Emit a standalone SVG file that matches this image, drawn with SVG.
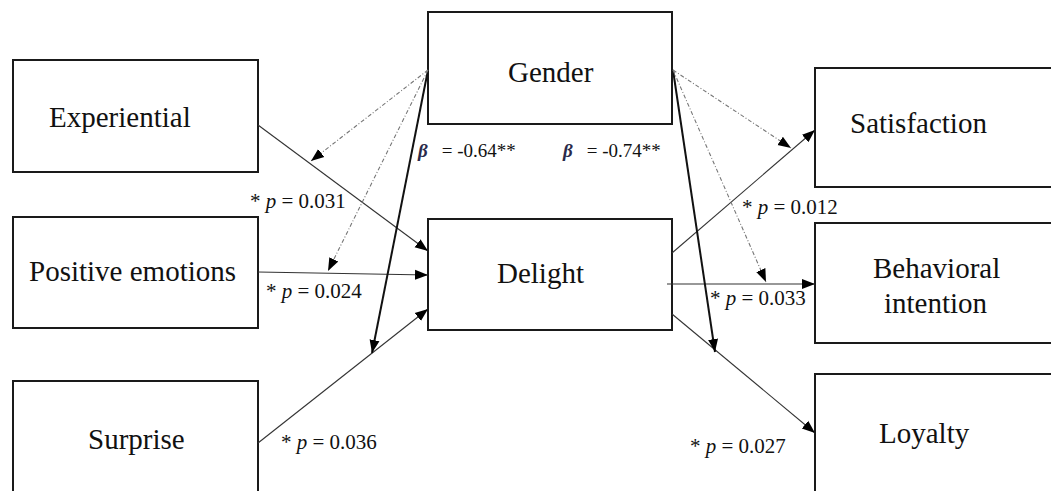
<svg xmlns="http://www.w3.org/2000/svg" width="1051" height="491" viewBox="0 0 1051 491">
<style>
.box{fill:#fff;stroke:#1a1a1a;stroke-width:2}
.lbl{font-family:"Liberation Serif","Times New Roman",serif;font-size:29px;fill:#111}
.p{font-family:"Liberation Serif","Times New Roman",serif;font-size:21px;fill:#111}
.b{font-family:"Liberation Serif","Times New Roman",serif;font-size:19px;fill:#111}
.path{fill:none;stroke:#333;stroke-width:1.1}
.mod{fill:none;stroke:#111;stroke-width:2}
.dd{fill:none;stroke:#777;stroke-width:1.1;stroke-dasharray:4 2 1 2}
</style>
<defs>
<marker id="ah" markerUnits="userSpaceOnUse" markerWidth="14" markerHeight="12" refX="13" refY="5" orient="auto" viewBox="0 0 14 10">
<path d="M0,0 L13,5 L0,10 z" fill="#000"/>
</marker>
</defs>
<rect width="1051" height="491" fill="#fff"/>

<g id="experiential"><rect class="box" x="13" y="60" width="245" height="112"/><text class="lbl" x="49" y="127">Experiential</text></g>
<g id="positive"><rect class="box" x="13" y="217" width="245" height="111"/><text class="lbl" x="29" y="281">Positive emotions</text></g>
<g id="surprise"><rect class="box" x="13" y="381" width="245" height="120"/><text class="lbl" x="88" y="449">Surprise</text></g>
<g id="gender"><rect class="box" x="428" y="12" width="244" height="112"/><text class="lbl" x="508" y="82">Gender</text></g>
<g id="delight"><rect class="box" x="428" y="219" width="244" height="111"/><text class="lbl" x="497" y="283">Delight</text></g>
<g id="satisfaction"><rect class="box" x="815" y="68" width="250" height="119"/><text class="lbl" x="850" y="133">Satisfaction</text></g>
<g id="behavioral"><rect class="box" x="815" y="223" width="250" height="120"/><text class="lbl" x="873" y="278">Behavioral</text><text class="lbl" x="884" y="313">intention</text></g>
<g id="loyalty"><rect class="box" x="815" y="374" width="250" height="130"/><text class="lbl" x="879" y="443">Loyalty</text></g>

<g id="connectors">
<line class="path" x1="258" y1="125" x2="428" y2="251" marker-end="url(#ah)"/>
<line class="path" x1="258" y1="272" x2="428" y2="275" marker-end="url(#ah)"/>
<line class="path" x1="258" y1="443" x2="428" y2="309" marker-end="url(#ah)"/>
<line class="path" x1="672" y1="253" x2="815" y2="130" marker-end="url(#ah)"/>
<line class="path" x1="667" y1="284" x2="815" y2="284" marker-end="url(#ah)"/>
<line class="path" x1="672" y1="314" x2="815" y2="433" marker-end="url(#ah)"/>
<line class="mod" x1="428" y1="70" x2="372" y2="353" marker-end="url(#ah)"/>
<line class="mod" x1="673" y1="70" x2="715" y2="352" marker-end="url(#ah)"/>
<line class="dd" x1="428" y1="70" x2="311" y2="161" marker-end="url(#ah)"/>
<line class="dd" x1="428" y1="70" x2="328" y2="271" marker-end="url(#ah)"/>
<line class="dd" x1="673" y1="70" x2="791" y2="148" marker-end="url(#ah)"/>
<line class="dd" x1="673" y1="70" x2="766" y2="282" marker-end="url(#ah)"/>
</g>

<g id="labels">
<text class="b" x="418" y="157"><tspan font-weight="bold" font-style="italic" fill="#2a2a4a">β</tspan><tspan x="437"> = -0.64**</tspan></text>
<text class="b" x="563" y="157"><tspan font-weight="bold" font-style="italic" fill="#2a2a4a">β</tspan><tspan x="582"> = -0.74**</tspan></text>
<text class="p" x="250" y="208">*<tspan font-style="italic"> p</tspan> = 0.031</text>
<text class="p" x="266" y="298">*<tspan font-style="italic"> p</tspan> = 0.024</text>
<text class="p" x="281" y="449">*<tspan font-style="italic"> p</tspan> = 0.036</text>
<text class="p" x="742" y="214">*<tspan font-style="italic"> p</tspan> = 0.012</text>
<text class="p" x="710" y="305">*<tspan font-style="italic"> p</tspan> = 0.033</text>
<text class="p" x="690" y="453">*<tspan font-style="italic"> p</tspan> = 0.027</text>
</g>
</svg>
